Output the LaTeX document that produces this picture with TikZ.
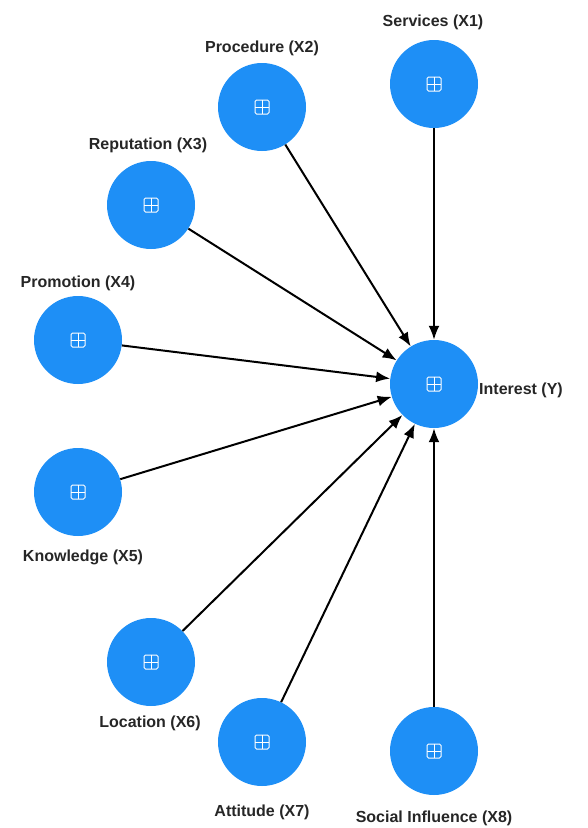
\documentclass[tikz,border=0pt]{standalone}
\usepackage{fontspec}
\setmainfont{Liberation Sans}
\usetikzlibrary{arrows.meta}
\definecolor{latentblue}{HTML}{1E8FF6}
\tikzset{%
  latent/.style={circle,fill=latentblue,minimum size=88pt,inner sep=0pt},%
  lbl/.style={font=\fontsize{16}{18}\selectfont\bfseries,text=black!85},%
  path/.style={line width=2pt,-{Latex[length=14pt,width=11pt]}},%
}
\newcommand{\plusicon}[1]{%
  \draw[white,line width=1pt,rounded corners=1.5pt] ($(#1)+(-7,-7)$) rectangle ($(#1)+(7,7)$);%
  \draw[white,line width=1pt] ($(#1)+(0,-7)$) -- ($(#1)+(0,7)$) ($(#1)+(-7,0)$) -- ($(#1)+(7,0)$);%
}
\usetikzlibrary{calc}
\begin{document}
\begin{tikzpicture}[x=1pt,y=-1pt]%
  \useasboundingbox (0,0) rectangle (587,828);%
  % constructs
  \node[latent] (Y) at (434,384) {};%
  \node[latent] (X1) at (434,84) {};%
  \node[latent] (X2) at (262,107) {};%
  \node[latent] (X3) at (151,205) {};%
  \node[latent] (X4) at (78,340) {};%
  \node[latent] (X5) at (78,492) {};%
  \node[latent] (X6) at (151,662) {};%
  \node[latent] (X7) at (262,742) {};%
  \node[latent] (X8) at (434,751) {};%
  \foreach \n in {Y,X1,X2,X3,X4,X5,X6,X7,X8} {\plusicon{\n}}%
  % labels
  \node[lbl] (lY) at (521,390) {Interest (Y)};%
  \node[lbl] (l1) at (433,22) {Services (X1)};%
  \node[lbl] (l2) at (262,48) {Procedure (X2)};%
  \node[lbl] (l3) at (148,145) {Reputation (X3)};%
  \node[lbl] (l4) at (78,283) {Promotion (X4)};%
  \node[lbl] (l5) at (83,557) {Knowledge (X5)};%
  \node[lbl] (l6) at (150,723) {Location (X6)};%
  \node[lbl] (l7) at (262,812) {Attitude (X7)};%
  \node[lbl] (l8) at (434,818) {Social Influence (X8)};%
  % paths
  \foreach \n in {X1,X2,X3,X4,X5,X6,X7,X8} {\draw[path] (\n) -- (Y);}%
\end{tikzpicture}
\end{document}
